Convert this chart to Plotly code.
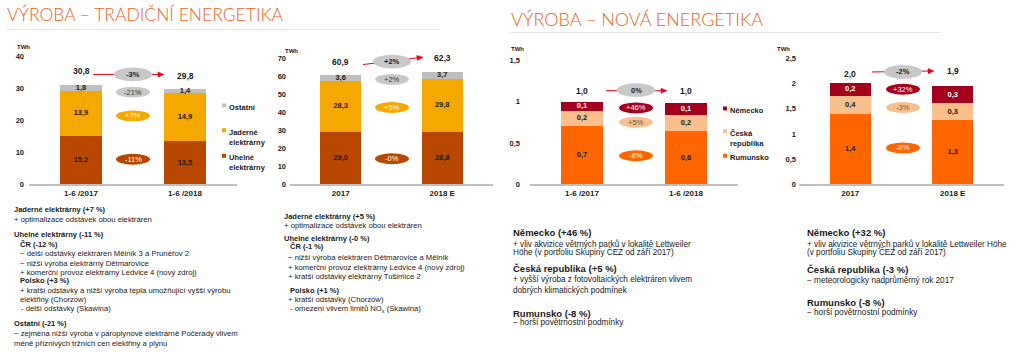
import math
import plotly.graph_objects as go

W, H = 1024, 355

# ---------------- DATA ----------------
trad_h1_periods = ["1-6 /2017", "1-6 /2018"]
trad_h1_uhelne = [15.2, 13.5]
trad_h1_jaderne = [13.9, 14.9]
trad_h1_ostatni = [1.8, 1.4]
trad_h1_totals = [30.8, 29.8]
trad_h1_changes = ["-3%", "-21%", "+7%", "-11%"]   # total, Ostatní, Jaderné, Uhelné

trad_y_periods = ["2017", "2018 E"]
trad_y_uhelne = [29.0, 28.8]
trad_y_jaderne = [28.3, 29.8]
trad_y_ostatni = [3.6, 3.7]
trad_y_totals = [60.9, 62.3]
trad_y_changes = ["+2%", "+2%", "+5%", "-0%"]

new_h1_periods = ["1-6 /2017", "1-6 /2018"]
new_h1_rumunsko = [0.70, 0.64]
new_h1_cr = [0.19, 0.20]
new_h1_nemecko = [0.10, 0.14]
new_h1_totals = [1.0, 1.0]
new_h1_changes = ["0%", "+46%", "+5%", "-8%"]     # total, Německo, ČR, Rumunsko

new_y_periods = ["2017", "2018 E"]
new_y_rumunsko = [1.39, 1.27]
new_y_cr = [0.37, 0.34]
new_y_nemecko = [0.24, 0.33]
new_y_totals = [2.0, 1.9]
new_y_changes = ["-2%", "+32%", "-3%", "-8%"]

trad_ticks = [0, 10, 20, 30, 40]
trad_tick_labels = ["0", "10", "20", "30", "40"]
trad_y_ticks = [0, 10, 20, 30, 40, 50, 60, 70]
trad_y_tick_labels = ["0", "10", "20", "30", "40", "50", "60", "70"]
new_h1_ticks = [0, 0.5, 1, 1.5]
new_h1_tick_labels = ["0", "0,5", "1", "1,5"]
new_y_ticks = [0, 0.5, 1, 1.5, 2, 2.5]
new_y_tick_labels = ["0", "0,5", "1", "1,5", "2", "2,5"]

trad_names = ["Uhelné<br>elektrárny", "Jaderné<br>elektrárny", "Ostatní"]
new_names = ["Rumunsko", "Česká<br>republika", "Německo"]

# ---------------- STYLE ----------------
C_UHEL, C_JAD, C_OST = "#B84700", "#F5A800", "#BFBFBF"
C_RUM, C_CZ, C_DE = "#FF6600", "#F9C08E", "#A3001E"
C_TOTAL_ELL = "#C8C8C8"
C_ARROW = "#E2001A"
TXT = "#1a1a1a"
FONT = "Liberation Sans, Arial, sans-serif"
ORANGE_TITLE = "#E8641E"


def fmt(v):
    return f"{v:.1f}".replace(".", ",")


charts = [
    dict(k="", x0=29, x1=237, zero=187, ppu=3.25, ticks=trad_ticks, tlab=trad_tick_labels,
         tick_right=22, periods=trad_h1_periods,
         series=[(trad_h1_uhelne, C_UHEL, TXT), (trad_h1_jaderne, C_JAD, TXT), (trad_h1_ostatni, C_OST, TXT)],
         totals=trad_h1_totals, total_dy=[15, 13], changes=trad_h1_changes,
         ell_cx=133, ell_cy=[75.5, 93.5, 117.5, 161.5],
         ell_col=[C_TOTAL_ELL, C_TOTAL_ELL, C_JAD, C_UHEL],
         ell_txt=[TXT, "#333333", "#ffffff", "#ffffff"],
         arrow=((93, 75.5), (164, 75.5)), twh=(15, 43)),
    dict(k="2", x0=290, x1=493, zero=187, ppu=128 / 70, ticks=trad_y_ticks, tlab=trad_y_tick_labels,
         tick_right=284, periods=trad_y_periods,
         series=[(trad_y_uhelne, C_UHEL, TXT), (trad_y_jaderne, C_JAD, TXT), (trad_y_ostatni, C_OST, TXT)],
         totals=trad_y_totals, total_dy=[12.5, 14], changes=trad_y_changes,
         ell_cx=392, ell_cy=[62.5, 80.5, 109, 161],
         ell_col=[C_TOTAL_ELL, C_TOTAL_ELL, C_JAD, C_UHEL],
         ell_txt=[TXT, "#333333", "#ffffff", "#ffffff"],
         arrow=((363, 65.5), (423, 58)), twh=(283, 47)),
    dict(k="3", x0=530, x1=738, zero=187, ppu=84, ticks=new_h1_ticks, tlab=new_h1_tick_labels,
         tick_right=518, periods=new_h1_periods,
         series=[(new_h1_rumunsko, C_RUM, TXT), (new_h1_cr, C_CZ, TXT), (new_h1_nemecko, C_DE, "#ffffff")],
         totals=new_h1_totals, total_dy=[11, 11], changes=new_h1_changes,
         ell_cx=636, ell_cy=[91.5, 109.5, 124, 158],
         ell_col=[C_TOTAL_ELL, C_DE, C_CZ, C_RUM],
         ell_txt=[TXT, "#ffffff", "#555555", "#ffffff"],
         arrow=((606, 92), (667, 92)), twh=(517, 45)),
    dict(k="4", x0=799, x1=1004, zero=187, ppu=51.2, ticks=new_y_ticks, tlab=new_y_tick_labels,
         tick_right=794, periods=new_y_periods,
         series=[(new_y_rumunsko, C_RUM, TXT), (new_y_cr, C_CZ, TXT), (new_y_nemecko, C_DE, "#ffffff")],
         totals=new_y_totals, total_dy=[9, 17], changes=new_y_changes,
         ell_cx=903, ell_cy=[73, 90.5, 109, 150],
         ell_col=[C_TOTAL_ELL, C_DE, C_CZ, C_RUM],
         ell_txt=[TXT, "#ffffff", "#555555", "#ffffff"],
         arrow=((872, 73), (934, 72)), twh=(792, 45)),
]

TOP_PX = 50

fig = go.Figure()
shapes = []
annotations = []


def px(x):
    return x / W


def py(y):
    return 1 - y / H


for c in charts:
    k = c["k"]
    xa, ya = "x" + k, "y" + k
    span = c["x1"] - c["x0"]
    cen0 = c["x0"] + span / 4
    step = span / 2

    def dx(p, cen0=cen0, step=step):
        return (p - cen0) / step

    def dy(p, c=c):
        return (c["zero"] - p) / c["ppu"]

    ytop = (c["zero"] - TOP_PX) / c["ppu"]
    fig.layout["xaxis" + k] = dict(
        domain=[c["x0"] / W, c["x1"] / W], range=[-0.5, 1.5], anchor=ya,
        tickmode="array", tickvals=[0, 1], ticktext=c["periods"], showgrid=False, zeroline=False,
        showline=True, linecolor="#BFBFBF", linewidth=1.5, ticks="", fixedrange=True,
        tickfont=dict(family=FONT, size=8, color=TXT, weight="bold"))
    fig.layout["yaxis" + k] = dict(
        domain=[(H - c["zero"]) / H, (H - TOP_PX) / H], range=[0, ytop], anchor=xa,
        tickmode="array", tickvals=c["ticks"], ticktext=c["tlab"], showgrid=False, zeroline=False,
        showline=False, ticks="", fixedrange=True,
        ticklabelstandoff=max(0, c["x0"] - c["tick_right"] - 3),
        tickfont=dict(family=FONT, size=7.5, color=TXT, weight="bold"))

    base = [0, 0]
    for vals, col, lcol in c["series"]:
        fig.add_trace(go.Bar(x=[0, 1], y=vals, width=0.4, marker=dict(color=col, line=dict(width=0)),
                             xaxis=xa, yaxis=ya, showlegend=False, hoverinfo="skip"))
        mids = [b + v / 2 for b, v in zip(base, vals)]
        fig.add_trace(go.Scatter(x=[0, 1], y=mids, mode="text", text=[fmt(v) for v in vals],
                                 textfont=dict(family=FONT, size=7.5, color=lcol, weight="bold"),
                                 xaxis=xa, yaxis=ya, showlegend=False, hoverinfo="skip", cliponaxis=False))
        base = [b + v for b, v in zip(base, vals)]

    # totals
    for i, (t, d) in enumerate(zip(c["totals"], c["total_dy"])):
        annotations.append(dict(x=i, y=t, xref=xa, yref=ya, text="<b>" + fmt(t) + "</b>", showarrow=False,
                                yshift=d, font=dict(family=FONT, size=8.5, color=TXT)))

    # arrow line + head
    (tx, ty), (hx, hy) = c["arrow"]
    L = math.hypot(hx - tx, hy - ty)
    ux, uy = (hx - tx) / L, (hy - ty) / L
    nx, ny = -uy, ux
    bx, by = hx - 6 * ux, hy - 6 * uy
    shapes.append(dict(type="line", xref=xa, yref=ya, x0=dx(tx), y0=dy(ty), x1=dx(bx), y1=dy(by),
                       line=dict(color=C_ARROW, width=1)))
    pts = [(hx, hy), (bx + 2.6 * nx, by + 2.6 * ny), (bx - 2.6 * nx, by - 2.6 * ny)]
    path = "M " + " L ".join("%f,%f" % (dx(a), dy(b)) for a, b in pts) + " Z"
    shapes.append(dict(type="path", xref=xa, yref=ya, path=path, fillcolor=C_ARROW,
                       line=dict(color=C_ARROW, width=0.5)))

    # ellipses
    for j, cy in enumerate(c["ell_cy"]):
        w, h = (38, 14) if j == 0 else (34, 11)
        shapes.append(dict(type="circle", xref=xa, yref=ya,
                           x0=dx(c["ell_cx"] - w / 2), x1=dx(c["ell_cx"] + w / 2),
                           y0=dy(cy + h / 2), y1=dy(cy - h / 2),
                           fillcolor=c["ell_col"][j], line=dict(width=0), layer="above"))
        txt = c["changes"][j]
        annotations.append(dict(x=dx(c["ell_cx"]), y=dy(cy), xref=xa, yref=ya,
                                text=("<b>%s</b>" % txt) if j == 0 else txt, showarrow=False,
                                font=dict(family=FONT, size=7.5, color=c["ell_txt"][j])))

    # TWh label
    annotations.append(dict(x=px(c["twh"][0]), y=py(c["twh"][1]), xref="paper", yref="paper", text="<b>TWh</b>",
                            showarrow=False, font=dict(family=FONT, size=6, color=TXT)))

# legends (drawn as annotations + squares)
legend_specs = [
    (222, [(107, trad_names[2], C_OST), (132, trad_names[1], C_JAD), (158, trad_names[0], C_UHEL)]),
    (723, [(110, new_names[2], C_DE), (133, new_names[1], C_CZ), (158, new_names[0], C_RUM)]),
]
for lx, items in legend_specs:
    for ly, name, col in items:
        shapes.append(dict(type="rect", xref="paper", yref="paper", x0=px(lx), x1=px(lx + 4),
                           y0=py(ly + 2), y1=py(ly - 2), fillcolor=col, line=dict(width=0)))
        annotations.append(dict(x=px(lx + 5), y=py(ly - 4.5), xref="paper", yref="paper", text="<b>%s</b>" % name,
                                xanchor="left", yanchor="top", align="left", showarrow=False,
                                font=dict(family=FONT, size=7.5, color=TXT)))

# titles
annotations.append(dict(x=px(5), y=py(15), xref="paper", yref="paper", text="VÝROBA – TRADIČNÍ ENERGETIKA",
                        xanchor="left", yanchor="middle", showarrow=False,
                        font=dict(family="Lato", size=17.5, color=ORANGE_TITLE, weight=300)))
annotations.append(dict(x=px(509), y=py(19), xref="paper", yref="paper", text="VÝROBA – NOVÁ ENERGETIKA",
                        xanchor="left", yanchor="middle", showarrow=False,
                        font=dict(family="Lato", size=18, color=ORANGE_TITLE, weight=300)))
shapes.append(dict(type="line", xref="paper", yref="paper", x0=px(5), x1=px(440), y0=py(30), y1=py(30),
                   line=dict(color="#E6E6E6", width=1)))
shapes.append(dict(type="line", xref="paper", yref="paper", x0=px(510), x1=px(940), y0=py(33), y1=py(33),
                   line=dict(color="#E6E6E6", width=1)))

# commentary text
text_lines = [
    # (x, y, text, size, bold)
    (12, 212, "Jaderné elektrárny (+7 %)", 7.5, True),
    (12, 223, "+ optimalizace odstávek obou elektráren", 7.7, False),
    (12, 238, "Uhelné elektrárny (-11 %)", 7.5, True),
    (18, 248, "ČR (-12 %)", 7.5, True),
    (18, 257, "− delší odstávky elektráren Mělník 3 a Prunéřov 2", 7.7, False),
    (18, 267, "− nižší výroba elektrárny Dětmarovice", 7.7, False),
    (18, 276, "+ komerční provoz elektrárny Ledvice 4 (nový zdroj)", 7.7, False),
    (18, 285, "Polsko (+3 %)", 7.5, True),
    (18, 295, "+ kratší odstávky a nižší výroba tepla umožňující vyšší výrobu", 7.7, False),
    (18, 304, "elektřiny (Chorzów)", 7.7, False),
    (19, 313, "- delší odstávky (Skawina)", 7.7, False),
    (12, 328, "Ostatní (-21 %)", 7.5, True),
    (12, 338, "− zejména nižší výroba v paroplynové elektrárně Počerady vlivem", 7.7, False),
    (12, 348, "méně příznivých tržních cen elektřiny a plynu", 7.7, False),

    (282, 220, "Jaderné elektrárny (+5 %)", 7.5, True),
    (282, 229, "+ optimalizace odstávek obou elektráren", 7.7, False),
    (282, 242, "Uhelné elektrárny (-0 %)", 7.5, True),
    (288, 250, "ČR (-1 %)", 7.5, True),
    (286, 261, "− nižší výroba elektráren Dětmarovice a Mělník", 7.7, False),
    (286, 271, "+ komerční provoz elektrárny Ledvice 4 (nový zdroj)", 7.7, False),
    (286, 280, "+ kratší odstávky elektrárny Tušimice 2", 7.7, False),
    (288, 295, "Polsko (+1 %)", 7.5, True),
    (286, 304, "+ kratší odstávky (Chorzów)", 7.7, False),
    (288, 313, "- omezení vlivem limitů NO<sub>x</sub> (Skawina)", 7.7, False),

    (511, 236, "Německo (+46 %)", 9.5, True),
    (511, 247, "+ vliv akvizice větrných parků v lokalitě Lettweiler", 8.2, False),
    (511, 256, "Höhe (v portfoliu Skupiny ČEZ od září 2017)", 8.2, False),
    (511, 272, "Česká republika (+5 %)", 9.5, True),
    (511, 283, "+ vyšší výroba z fotovoltaických elektráren vlivem", 8.2, False),
    (511, 295, "dobrých klimatických podmínek", 8.2, False),
    (511, 318, "Rumunsko (-8 %)", 9.5, True),
    (511, 327, "− horší povětrnostní podmínky", 8.2, False),

    (805, 236, "Německo (+32 %)", 9.5, True),
    (805, 247, "+ vliv akvizice větrných parků v lokalitě Lettweiler Höhe", 8.2, False),
    (805, 256, "(v portfoliu Skupiny ČEZ od září 2017)", 8.2, False),
    (805, 273, "Česká republika (-3 %)", 9.5, True),
    (805, 284, "− meteorologicky nadprůměrný rok 2017", 8.2, False),
    (805, 307, "Rumunsko (-8 %)", 9.5, True),
    (805, 317, "− horší povětrnostní podmínky", 8.2, False),
]
for x, y, t, s, b in text_lines:
    annotations.append(dict(x=px(x), y=py(y), xref="paper", yref="paper",
                            text=("<b>%s</b>" % t) if b else t, xanchor="left", yanchor="middle",
                            showarrow=False, font=dict(family=FONT, size=s, color=TXT)))

fig.update_layout(
    width=W, height=H, margin=dict(l=0, r=0, t=0, b=0),
    paper_bgcolor="white", plot_bgcolor="rgba(0,0,0,0)",
    barmode="stack", showlegend=False, separators=", ",
    shapes=shapes, annotations=annotations,
    font=dict(family=FONT, color=TXT),
)

fig.write_html("out.html", config={"displayModeBar": False},
               post_script="document.body.style.margin='0';")
